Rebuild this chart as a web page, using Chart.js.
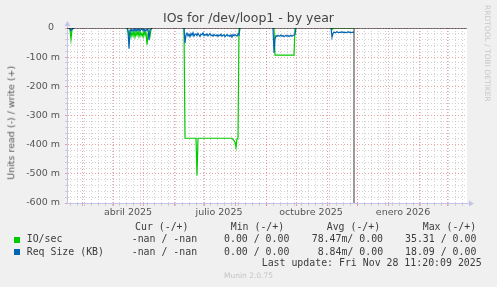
<!DOCTYPE html>
<html>
<head>
<meta charset="utf-8">
<script src="https://cdn.jsdelivr.net/npm/chart.js@4/dist/chart.umd.min.js"></script>
<style>
  body { margin: 0; background: #f0f0f0; }
  #wrap { position: relative; width: 497px; height: 287px; background: #f0f0f0; overflow: hidden; }
  #wrap canvas { position: absolute; left: 0; top: 0; }
  .t { position: absolute; white-space: pre; line-height: 1; color: #3c3c3c; }
  .mono { font-family: "DejaVu Sans Mono", monospace; font-size: 9.9px; }
  .sq { position: absolute; width: 6px; height: 6px; }
</style>
</head>
<body>
<div id="wrap">
  <canvas id="graf" width="497" height="287"></canvas>

  <div class="t" style="left:0;width:497px;text-align:center;top:11.5px;font-family:'DejaVu Sans';font-size:12.5px;color:#444">IOs for /dev/loop1 - by year</div>
  <div class="t" style="left:-89px;top:118px;width:200px;text-align:center;font-family:'DejaVu Sans';font-size:9.5px;color:#555;transform:rotate(-90deg)">Units read (-) / write (+)</div>
  <div class="t" style="left:483px;top:5px;font-family:'DejaVu Sans';font-size:7.5px;color:#c8c8c8;writing-mode:vertical-rl">RRDTOOL / TOBI OETIKER</div>

  <!-- legenda -->
  <div class="t mono" style="left:135px;top:221.5px">Cur (-/+)</div>
  <div class="t mono" style="left:230.7px;top:221.5px">Min (-/+)</div>
  <div class="t mono" style="left:326.7px;top:221.5px">Avg (-/+)</div>
  <div class="t mono" style="left:422.7px;top:221.5px">Max (-/+)</div>

  <div class="sq" style="left:14px;top:237px;background:#00cc00"></div>
  <div class="t mono" style="left:26.7px;top:234.3px">IO/sec</div>
  <div class="t mono" style="left:131.7px;top:234.3px">-nan / -nan</div>
  <div class="t mono" style="left:224px;top:234.3px">0.00 / 0.00</div>
  <div class="t mono" style="left:311.7px;top:234.3px">78.47m/ 0.00</div>
  <div class="t mono" style="left:405px;top:234.3px">35.31 / 0.00</div>

  <div class="sq" style="left:14px;top:249px;background:#0066b3"></div>
  <div class="t mono" style="left:26.7px;top:246.6px">Req Size (KB)</div>
  <div class="t mono" style="left:131.7px;top:246.6px">-nan / -nan</div>
  <div class="t mono" style="left:224px;top:246.6px">0.00 / 0.00</div>
  <div class="t mono" style="left:317.7px;top:246.6px">8.84m/ 0.00</div>
  <div class="t mono" style="left:405px;top:246.6px">18.09 / 0.00</div>

  <div class="t mono" style="left:261.7px;top:258.3px">Last update: Fri Nov 28 11:20:09 2025</div>
  <div class="t" style="left:0;width:497px;text-align:center;top:272px;font-family:'DejaVu Sans';font-size:7.5px;color:#c4c4c4">Munin 2.0.75</div>
</div>

<script>
// eixo x em dias desde 14 fev 2025 (borda esquerda do grafico)
const X_MIN = 0;
const X_MAX = 400;
const NOW_DAY = 287; // 28 nov 2025

const monthStarts = [15, 46, 76, 107, 137, 168, 199, 229, 260, 290, 321, 352, 380];
const labelDays = [61, 152, 244, 336];
const labelText = ['abril 2025', 'julio 2025', 'octubre 2025', 'enero 2026'];
const FIRST_MONDAY = 3;

// trechos com dados (dia inicial de cada trecho)
const runStart = [2, 60, 117, 206, 264];

// IO/sec lido (m)
const ioRun1 = [0, -6, -39, -4, -1, 0];
const ioRun2 = [0, -12, -28, -10, -30, -14, -27, -9, -31, -16, -25, -8, -29, -12, -26, -18, -30, -10, -24, -14, -57, -22, -12, -28, -6, 0];
const ioRun3 = [0, -378,
  -378, -378, -378, -378, -378, -378, -378, -378, -378, -378, -378,
  -506,
  -378, -378, -378, -378, -378, -378, -378, -378, -378, -378,
  -378, -378, -378, -378, -378, -378, -378, -378, -378, -378,
  -378, -378, -378, -378, -378, -378, -378, -378, -378, -378,
  -378, -378, -378, -378, -378,
  -382, -386, -392, -410, -381, -378, 0, 0];
const ioRun4 = [0, 0, -93, -93, -93, -93, -93, -93, -93, -93, -93, -93, -93, -93, -93, -93, -93, -93, -93, -93, -93, -93, 0, 0];
const ioRun5 = [0, -6, -2, 0, 0, 0, 0, 0, 0, 0, 0, 0, 0, 0, 0, 0, 0, 0, 0, 0, 0, 0, 0, 0];

// Req Size lido (m)
const reqRun1 = [0, -3, -9, -5, -2, 0];
const reqRun2 = [0, -8, -71, -9, -4, -11, -5, -9, -3, -12, -4, -8, -3, -10, -5, -3, -9, -4, -11, -5, -7, -4, -42, -6, -3, 0];
const reqRun3 = [0, -52,
  -24, -18, -27, -21, -30, -19, -25, -16, -28, -22,
  -20, -26, -18, -24, -29, -21, -23, -17, -26, -22,
  -25, -20, -27, -23, -19, -26, -24, -28, -22, -25,
  -27, -23, -29, -24, -26, -21, -28, -25, -23, -30,
  -26, -22, -27, -25, -29, -24, -31, -23, -27, -22,
  -26, -28, -20,
  -24, 0];
const reqRun4 = [0, -85, -38, -26, -29, -25, -28, -27, -24, -28, -26, -30, -27, -25, -28, -26, -29, -27, -25, -28, -26, -24, -22, 0];
const reqRun5 = [0, -32, -18, -14, -16, -15, -13, -15, -16, -14, -15, -13, -16, -15, -14, -16, -15, -13, -15, -14, -16, -15, -14, -15];

const ioRuns = [ioRun1, ioRun2, ioRun3, ioRun4, ioRun5];
const reqRuns = [reqRun1, reqRun2, reqRun3, reqRun4, reqRun5];

// junta os trechos com um null entre eles
function montaPontos(runs) {
    const pts = [];
    runs.forEach((run, r) => {
        if (r > 0) pts.push({ x: runStart[r] - 0.5, y: null });
        run.forEach((v, i) => pts.push({ x: runStart[r] + i, y: v }));
    });
    return pts;
}

const weekLines = [];
for (let d = FIRST_MONDAY; d < X_MAX; d += 7) weekLines.push(d);

const RED_GRID = 'rgba(230,140,140,0.8)';
const GRAY_GRID = 'rgba(195,195,195,0.75)';
const AXIS = '#c4c4ea';

const fundoBranco = {
    id: 'fundoBranco',
    beforeDraw(chart) {
        const { ctx, chartArea: a } = chart;
        ctx.save();
        ctx.fillStyle = '#ffffff';
        ctx.fillRect(a.left, a.top, a.right - a.left, a.bottom - a.top);
        ctx.restore();
    },
    afterDraw(chart) {
        const { ctx, chartArea: a } = chart;
        ctx.save();
        ctx.fillStyle = AXIS;
        ctx.strokeStyle = AXIS;
        ctx.lineWidth = 1;
        ctx.beginPath();
        ctx.moveTo(a.left + 0.5, a.top);
        ctx.lineTo(a.left + 0.5, a.top - 3);
        ctx.moveTo(a.right, a.bottom + 0.5);
        ctx.lineTo(a.right + 3, a.bottom + 0.5);
        ctx.stroke();
        ctx.beginPath();
        ctx.moveTo(a.left - 2.5, a.top - 2);
        ctx.lineTo(a.left + 3.5, a.top - 2);
        ctx.lineTo(a.left + 0.5, a.top - 7);
        ctx.closePath();
        ctx.fill();
        ctx.beginPath();
        ctx.moveTo(a.right + 2, a.bottom - 2.5);
        ctx.lineTo(a.right + 2, a.bottom + 3.5);
        ctx.lineTo(a.right + 7, a.bottom + 0.5);
        ctx.closePath();
        ctx.fill();
        ctx.restore();
    }
};

const fonteEixo = { family: 'DejaVu Sans', size: 9.5 };

function corGradeX(c) {
    const v = c.tick ? c.tick.value : null;
    if (labelDays.includes(v)) return 'rgba(0,0,0,0)';
    return monthStarts.includes(v) ? RED_GRID : GRAY_GRID;
}
function corGradeY(c) {
    return (c.tick && c.tick.value % 100 === 0) ? RED_GRID : GRAY_GRID;
}

new Chart(document.getElementById('graf'), {
    type: 'line',
    data: {
        datasets: [
            { label: 'zero', data: [{ x: X_MIN, y: 0 }, { x: X_MAX, y: 0 }], borderColor: '#000000', borderWidth: 1, order: -1 },
            { label: 'agora', data: [{ x: NOW_DAY, y: 0 }, { x: NOW_DAY, y: -600 }], borderColor: '#8c8c8c', borderWidth: 1, order: 3 },
            { label: 'Req Size (KB)', data: montaPontos(reqRuns), borderColor: '#0066b3', borderWidth: 1.2, order: 0 },
            { label: 'IO/sec', data: montaPontos(ioRuns), borderColor: '#00cc00', borderWidth: 1.2, order: 1 }
        ]
    },
    options: {
        responsive: false,
        animation: false,
        devicePixelRatio: 1,
        spanGaps: false,
        elements: { point: { radius: 0 }, line: { tension: 0 } },
        layout: { padding: { top: 28, right: 30, left: 0, bottom: 0 } },
        plugins: { legend: { display: false }, tooltip: { enabled: false } },
        scales: {
            x: {
                type: 'linear',
                min: X_MIN,
                max: X_MAX,
                afterBuildTicks(scale) {
                    const vals = [...weekLines, ...monthStarts, ...labelDays].sort((a, b) => a - b);
                    scale.ticks = vals.map(v => ({ value: v }));
                },
                afterFit(scale) { scale.height = 84; },
                ticks: {
                    autoSkip: false,
                    maxRotation: 0,
                    padding: 1,
                    color: '#555',
                    font: fonteEixo,
                    callback(v) {
                        const i = labelDays.indexOf(v);
                        return i >= 0 ? labelText[i] : '';
                    }
                },
                grid: { lineWidth: 1, tickLength: 3, color: corGradeX, tickColor: corGradeX },
                border: { color: AXIS, width: 1, dash: [1, 2] }
            },
            y: {
                min: -600,
                max: 0,
                afterFit(scale) { scale.width = 67; },
                ticks: {
                    stepSize: 20,
                    autoSkip: false,
                    padding: 5,
                    color: '#555',
                    font: fonteEixo,
                    callback(v) {
                        if (v % 100 !== 0) return '';
                        return v === 0 ? '0  ' : v + ' m';
                    }
                },
                grid: { lineWidth: 1, tickLength: 2, color: corGradeY, tickColor: corGradeY },
                border: { color: AXIS, width: 1, dash: [1, 2] }
            }
        }
    },
    plugins: [fundoBranco]
});
</script>
</body>
</html>
